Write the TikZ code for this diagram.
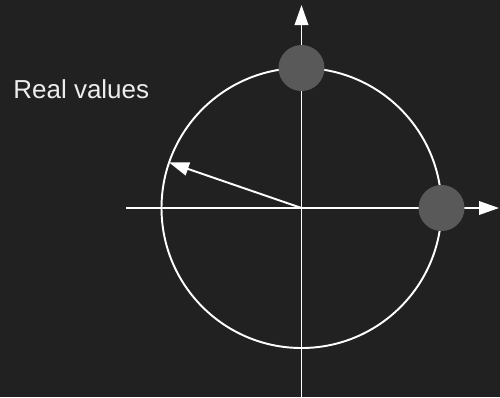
\documentclass[tikz,border=0pt]{standalone}
\usepackage{fontspec}
\setmainfont{Liberation Sans}
\usetikzlibrary{arrows.meta}
\definecolor{bgdark}{HTML}{212121}
\definecolor{dotgrey}{HTML}{595959}
\definecolor{labelgrey}{HTML}{EDEDED}

\begin{document}
\begin{tikzpicture}[x=0.02cm,y=-0.02cm,>={Triangle[length=0.4cm,width=0.27cm]},
  axis/.style={draw=white,line width=1.1pt},
  dot/.style={circle,fill=dotgrey,minimum size=0.92cm,inner sep=0pt},
  every node/.style={font=\fontsize{14.8}{18}\selectfont,text=labelgrey}]
\fill[bgdark] (0,0) rectangle (500,397);
\useasboundingbox (0,0) rectangle (500,397);
\coordinate (o) at (301.5,208);
\coordinate (west) at (126,208);
\coordinate (east) at (499,208);
\coordinate (south) at (301.5,397);
\coordinate (north) at (301.5,5);
\coordinate (tip) at (169,162.4);
\draw[axis,->] (west)--(east);
\draw[axis,->] (south)--(north);
\draw[axis] (o) circle [radius=140];
\draw[axis,->] (o)--(tip);
\node (top) [dot] at (301.5,68) {};
\node (right) [dot] at (441.5,208) {};
\node (label) [anchor=base west,inner sep=0pt] at (13,98) {Real values};
\end{tikzpicture}
\end{document}
